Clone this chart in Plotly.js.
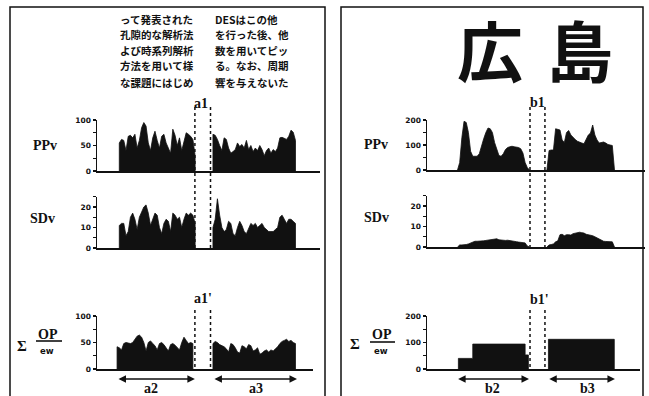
<!DOCTYPE html>
<html><head><meta charset="utf-8">
<script src="https://cdn.plot.ly/plotly-3.0.1.min.js"></script>
<style>html,body{margin:0;padding:0;background:#fff}#chart{width:649px;height:396px}</style>
</head><body><div id="chart"></div>
<script>
// ---------- data ----------
// left column, time index u
const a2Start = 10, a3Start = 52, a2SumStart = 9;
const leftPPv_a2 = [55,62,60,40,68,70,65,72,45,60,85,95,88,55,40,65,78,60,45,68,72,55,45,35,82,70,50,65,40,60,75,72,68,62,30];
const leftPPv_a3 = [72,70,62,50,40,65,62,45,35,38,42,55,48,52,45,60,42,50,38,45,40,50,42,30,40,45,35,42,38,45,65,66,64,62,68,80,76,60];
const leftSDv_a2 = [11,12,12,6,8,15,17,14,9,15,18,20,21,17,11,14,17,16,10,7,12,14,13,8,17,16,14,15,10,14,17,16,17,16,12];
const leftSDv_a3 = [10,14,24,16,10,8,9,13,12,7,6,10,13,11,8,7,10,12,11,12,10,11,12,10,9,8,8,8,9,10,15,16,14,12,14,14,13,12];
const leftSum_a2 = [42,40,36,48,50,49,48,50,56,62,64,60,50,34,50,53,48,44,36,48,50,46,40,34,46,48,45,40,36,50,60,54,48,50,48];
const leftSum_a3 = [48,52,50,46,44,42,38,32,48,46,40,32,30,44,42,38,46,44,34,36,40,28,30,34,36,32,36,34,38,42,48,52,54,56,52,54,50,48];
// right column, time index v
const b2Start = 14, b3Start = 55;
const rightPPv_b2 = [0,30,130,195,190,150,75,55,55,55,65,100,125,150,168,165,150,110,80,58,55,65,82,90,93,95,93,92,90,85,68,30,10,0];
const rightPPv_b3 = [0,78,80,80,165,162,160,120,110,150,158,140,130,122,115,110,108,105,120,140,148,180,140,120,108,110,112,108,102,100,98,0];
const rightSDv_b2 = [0,1,1,1,1.2,1.5,2,2.5,2.8,2.8,2.8,3,3,3.2,3.3,3.4,3.5,3.6,4,3.5,3.3,3.3,3.2,3.3,3.2,3,2.8,2.6,2.4,2.2,2.2,2,0.5,0];
const rightSDv_b3 = [0,1,1.2,1.5,2.5,3,6,6.2,5.5,6,6,5.8,6.5,6.8,7,7.2,7,6.8,6.2,6,6,5.5,5,4.5,3.8,3.2,2.8,2.7,2.6,2.5,2.5,0];
const rightSum_b2_x = [14.4,21,45,46.5];
const rightSum_b2_y = [40,94,53,53];
const rightSum_b3_x = [55.7,85.9];
const rightSum_b3_y = [112,112];
// tick labels
const ppvLeftTicks = [0,25,50,75,100], ppvLeftText = ["0","","50","","100"];
const sdvTicks = [0,5,10,15,20,25], sdvText = ["0","","10","","20",""];
const rightTicks = [0,50,100,150,200], rightText = ["0","","100","","200"];
// period markers
const a1Edges = [43.9, 50.9], b1Edges = [47.25, 54.1];
const a2Span = [8.97, 43.9], a3Span = [52.0, 89.7];
const b2Span = [13.6, 46.8], b3Span = [55.4, 86.2];

// ---------- helpers ----------
const W = 649, H = 396;
const px = x => x / W, py = y => 1 - y / H;
const seq = (s, n) => Array.from({length: n}, (_, i) => s + i);
const INK = '#111';
function area(xs, ys, xa, ya, shape) {
  return {type:'scatter', mode:'lines', x:[xs[0], ...xs, xs[xs.length-1]], y:[0, ...ys, 0],
    xaxis:xa, yaxis:ya, fill:'tozeroy', fillcolor:INK,
    line:{color:INK, width:0.8, shape:shape || 'linear'}, hoverinfo:'skip', showlegend:false};
}
const traces = [
  area(seq(a2Start, leftPPv_a2.length), leftPPv_a2, 'x', 'y'),
  area(seq(a3Start, leftPPv_a3.length), leftPPv_a3, 'x', 'y'),
  area(seq(a2Start, leftSDv_a2.length), leftSDv_a2, 'x2', 'y2'),
  area(seq(a3Start, leftSDv_a3.length), leftSDv_a3, 'x2', 'y2'),
  area(seq(a2SumStart, leftSum_a2.length), leftSum_a2, 'x3', 'y3'),
  area(seq(a3Start, leftSum_a3.length), leftSum_a3, 'x3', 'y3'),
  area(seq(b2Start, rightPPv_b2.length), rightPPv_b2, 'x4', 'y4'),
  area(seq(b3Start, rightPPv_b3.length), rightPPv_b3, 'x4', 'y4'),
  area(seq(b2Start, rightSDv_b2.length), rightSDv_b2, 'x5', 'y5'),
  area(seq(b3Start, rightSDv_b3.length), rightSDv_b3, 'x5', 'y5'),
  area(rightSum_b2_x, rightSum_b2_y, 'x6', 'y6', 'hv'),
  area(rightSum_b3_x, rightSum_b3_y, 'x6', 'y6', 'hv')
];

function xax(d0, d1, r1, anchor) {
  return {domain:[px(d0), px(d1)], range:[0, r1], anchor:anchor, showline:true, linecolor:INK, linewidth:1.5,
    showgrid:false, zeroline:false, ticks:'', showticklabels:false, fixedrange:true};
}
function yax(top, bottom, r1, tv, tt, anchor) {
  return {domain:[py(bottom), py(top)], range:[0, r1], anchor:anchor, showline:true, linecolor:INK, linewidth:1.5,
    showgrid:false, zeroline:false, ticks:'outside', ticklen:3, tickwidth:1.2, tickcolor:INK,
    tickvals:tv, ticktext:tt, tickfont:{family:'DejaVu Sans', size:7.5, color:INK, weight:'bold'}, fixedrange:true};
}
function yin(base, r1, tv, anchor) {
  return {overlaying:base, anchor:anchor, range:[0, r1], side:'left', showline:false, showgrid:false, zeroline:false,
    ticks:'inside', ticklen:3, tickwidth:1.2, tickcolor:INK, tickvals:tv, showticklabels:false, fixedrange:true};
}

const ann = [];
function txt(t, x, y, size, opts) {
  ann.push(Object.assign({text:t, x:px(x), y:py(y), xref:'paper', yref:'paper', showarrow:false,
    xanchor:'center', yanchor:'middle',
    font:{family:'Liberation Serif', size:size, color:INK, weight:'bold'}}, opts || {}));
}
// Japanese text block
const col1 = ["って発表された","孔隙的な解析法","よび時系列解析","方法を用いて様","な課題にはじめ"];
const col2 = ["DESはこの他","を行った後、他","数を用いてピッ","る。なお、周期","響を与えないた"];
const lineY = [19, 34, 50, 66, 82];
const jp = {family:'Noto Sans CJK JP', size:10.5, color:INK, weight:'bold'};
col1.forEach((t, i) => txt(t, 118, lineY[i], 10.5, {xanchor:'left', font:jp}));
col2.forEach((t, i) => txt(t, 213, lineY[i], 10.5, {xanchor:'left', font:jp}));
// big title
const big = {family:'Noto Sans CJK JP', size:66, color:INK, weight:'bold'};
txt('広', 490, 48, 66, {font:big});
txt('島', 580, 48, 66, {font:big});
// row labels
txt('PPv', 45, 145, 14); txt('SDv', 42, 218, 14);
txt('PPv', 376, 144, 14); txt('SDv', 376, 217, 14);
txt('Σ', 22, 346, 15); txt('OP', 48, 334, 14); txt('ew', 47, 351, 9.5, {font:{family:'DejaVu Sans', size:8.5, color:INK, weight:'bold'}});
txt('Σ', 355, 344, 15); txt('OP', 382, 334, 14); txt('ew', 381, 351, 9.5, {font:{family:'DejaVu Sans', size:8.5, color:INK, weight:'bold'}});
// period labels
txt('a1', 201, 103, 14); txt("a1'", 203, 298, 14);
txt('b1', 537, 102, 14); txt("b1'", 539, 299, 14);
txt('a2', 151, 388, 14); txt('a3', 256, 388, 14);
txt('b2', 492, 388, 14); txt('b3', 587, 388, 14);
// double arrows
function dArrow(xa, span, y) {
  ann.push({xref:xa, yref:'paper', axref:xa, ayref:'pixel', x:span[1], y:py(y), ax:span[0], ay:0,
    text:'', showarrow:true, arrowside:'end+start', arrowhead:2, arrowsize:1, arrowwidth:1.5, arrowcolor:INK, standoff:0, startstandoff:0});
}
dArrow('x3', a2Span, 379); dArrow('x3', a3Span, 379);
dArrow('x6', b2Span, 379); dArrow('x6', b3Span, 379);

const shapes = [];
function vline(xa, xv, y0, y1) {
  shapes.push({type:'line', xref:xa, yref:'paper', x0:xv, x1:xv, y0:py(y0), y1:py(y1), line:{color:INK, width:1.5, dash:'dot'}});
}
a1Edges.forEach(v => { vline('x', v, 107, 248); vline('x3', v, 310, 369); });
b1Edges.forEach(v => { vline('x4', v, 107, 247); vline('x6', v, 310, 369); });
// fraction bars
shapes.push({type:'line', xref:'paper', yref:'paper', x0:px(36), x1:px(62), y0:py(341), y1:py(341), line:{color:INK, width:1.6}});
shapes.push({type:'line', xref:'paper', yref:'paper', x0:px(370), x1:px(395), y0:py(342), y1:py(342), line:{color:INK, width:1.6}});
// panel frames
shapes.push({type:'rect', xref:'paper', yref:'paper', x0:px(10), x1:px(325), y0:py(402), y1:py(7), line:{color:INK, width:1.5}});
shapes.push({type:'rect', xref:'paper', yref:'paper', x0:px(341), x1:px(643), y0:py(402), y1:py(7), line:{color:INK, width:1.5}});

const layout = {
  width:W, height:H, margin:{l:0, r:0, t:0, b:0}, paper_bgcolor:'#fff', plot_bgcolor:'rgba(0,0,0,0)',
  showlegend:false,
  xaxis: xax(97, 320, 100, 'y'),  yaxis: yax(120, 171, 100, ppvLeftTicks, ppvLeftText, 'x'),
  xaxis2: xax(97, 320, 100, 'y2'), yaxis2: yax(196.7, 248, 25, sdvTicks, sdvText, 'x2'),
  xaxis3: xax(97, 313, 96.86, 'y3'), yaxis3: yax(316, 369, 100, ppvLeftTicks, ppvLeftText, 'x3'),
  xaxis4: xax(427, 645, 100, 'y4'), yaxis4: yax(120, 170, 200, rightTicks, rightText, 'x4'),
  xaxis5: xax(427, 645, 100, 'y5'), yaxis5: yax(195.7, 247, 25, sdvTicks, sdvText, 'x5'),
  xaxis6: xax(427, 640, 97.7, 'y6'), yaxis6: yax(316, 369, 200, rightTicks, rightText, 'x6'),
  yaxis7: yin('y', 100, ppvLeftTicks, 'x'),
  yaxis8: yin('y2', 25, sdvTicks, 'x2'),
  yaxis9: yin('y3', 100, ppvLeftTicks, 'x3'),
  yaxis10: yin('y4', 200, rightTicks, 'x4'),
  yaxis11: yin('y5', 25, sdvTicks, 'x5'),
  yaxis12: yin('y6', 200, rightTicks, 'x6'),
  annotations: ann, shapes: shapes
};
Plotly.newPlot('chart', traces, layout, {staticPlot:true, displayModeBar:false});
</script></body></html>
